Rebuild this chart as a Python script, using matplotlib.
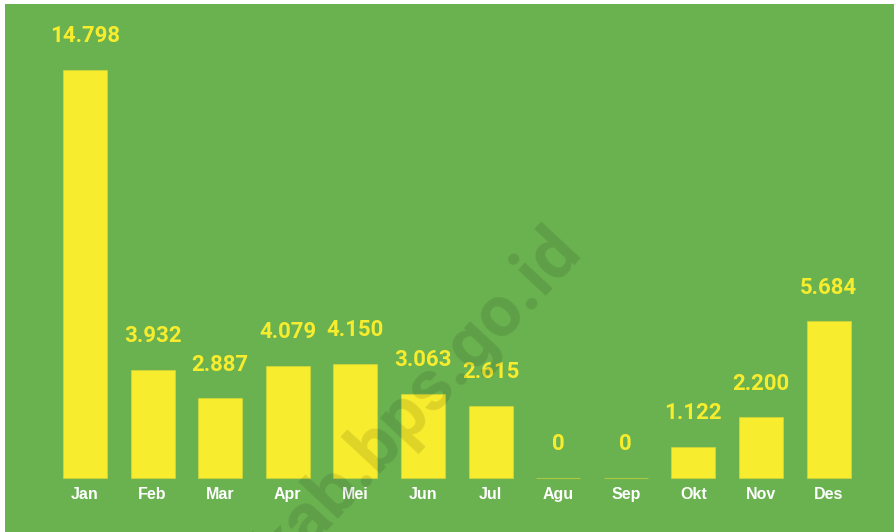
import matplotlib
matplotlib.use("Agg")
from matplotlib import pyplot as plt
from matplotlib.patches import Rectangle

months = ["Jan", "Feb", "Mar", "Apr", "Mei", "Jun", "Jul", "Agu", "Sep", "Okt", "Nov", "Des"]
values = [14798, 3932, 2887, 4079, 4150, 3063, 2615, 0, 0, 1122, 2200, 5684]
labels = ["14.798", "3.932", "2.887", "4.079", "4.150", "3.063", "2.615", "0", "0", "1.122", "2.200", "5.684"]

green = "#6ab150"
yellow = "#f7ec2d"

W, H = 895, 532
fig = plt.figure(figsize=(W / 100, H / 100), dpi=100)
fig.patch.set_facecolor("white")
fig.patches.append(Rectangle((5 / W, 0), 1, (H - 4) / H, transform=fig.transFigure,
                             facecolor=green, edgecolor="none", zorder=-5))

ax = fig.add_axes([0, 0, 1, 1])
ax.set_facecolor("none")
ax.axis("off")

step = 67.6  # px between bar centers
x0 = -85 / step
ax.set_xlim(x0, x0 + W / step)
scale = 408 / 14798  # px per unit
y0 = -54 / scale
ax.set_ylim(y0, y0 + H / scale)

x = list(range(len(months)))
ax.bar(x, values, width=0.65, color=yellow, edgecolor=(0.85, 0.85, 0.2, 0.6),
       linewidth=0.8, zorder=2)

for i, (v, lab) in enumerate(zip(values, labels)):
    ax.annotate(lab, (i, v), xytext=(0, 20), textcoords="offset points",
                ha="center", va="baseline", color=yellow, fontsize=16,
                fontfamily="Roboto", fontweight="bold", zorder=3)
    ax.annotate(months[i], (i, 0), xytext=(0, -15), textcoords="offset points",
                ha="center", va="baseline", color="white", fontsize=11.5,
                fontfamily="Liberation Sans", fontweight="bold", zorder=3)

# watermark
fig.text(594 / W, 1 - 262 / H, "ikab.bps.go.id", rotation=47, rotation_mode="anchor",
         ha="right", va="bottom", fontsize=52, fontfamily="Roboto", fontweight="bold",
         color="black", alpha=0.1, zorder=5)

fig.savefig("out.png", dpi=100)
